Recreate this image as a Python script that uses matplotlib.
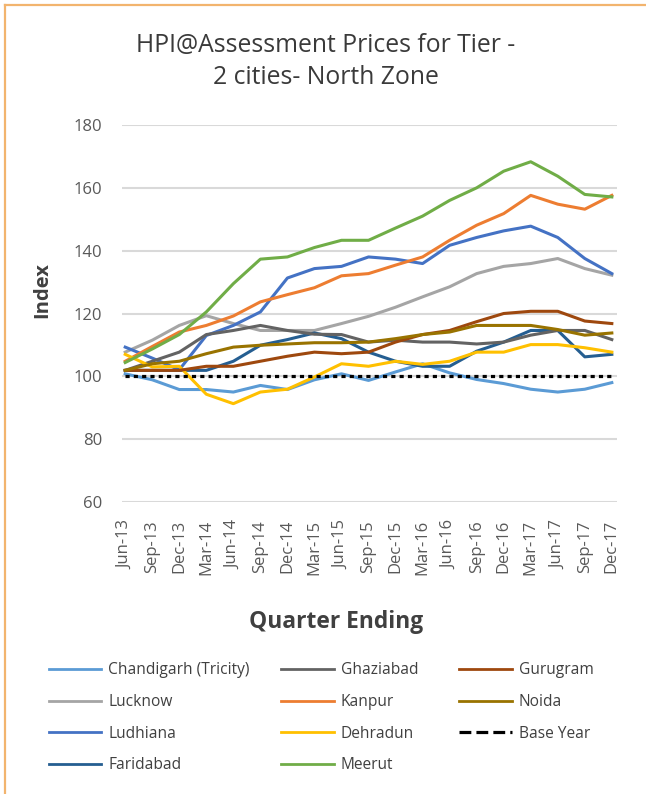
import matplotlib
matplotlib.use("Agg")
import matplotlib.pyplot as plt
from matplotlib.lines import Line2D

plt.rcParams['font.family'] = ['Open Sans', 'DejaVu Sans']

quarters = ["Jun-13", "Sep-13", "Dec-13", "Mar-14", "Jun-14", "Sep-14", "Dec-14",
            "Mar-15", "Jun-15", "Sep-15", "Dec-15", "Mar-16", "Jun-16", "Sep-16",
            "Dec-16", "Mar-17", "Jun-17", "Sep-17", "Dec-17"]

chandigarh = [100.8, 98.9, 95.8, 95.8, 95.0, 97.1, 95.8, 98.9, 100.8, 98.7,
              101.4, 104.0, 101.1, 99.0, 97.7, 95.9, 95.0, 95.9, 98.0]
ghaziabad = [101.9, 104.8, 107.7, 113.3, 114.6, 116.2, 114.6, 113.4, 113.3, 110.9,
             111.5, 110.9, 110.9, 110.3, 110.9, 113.1, 114.6, 114.6, 111.7]
gurugram = [101.9, 101.9, 101.9, 103.2, 103.2, 104.8, 106.4, 107.7, 107.2, 107.7,
            110.9, 113.3, 114.6, 117.4, 120.0, 120.7, 120.7, 117.6, 116.8]
lucknow = [107.7, 111.5, 116.2, 119.3, 116.8, 114.6, 114.6, 114.6, 116.8, 119.1,
           122.0, 125.3, 128.5, 132.7, 135.0, 135.9, 137.5, 134.3, 132.2]
kanpur = [104.8, 109.5, 114.1, 116.2, 119.2, 123.7, 126.0, 128.2, 132.0, 132.7,
          135.4, 138.0, 143.3, 148.1, 151.8, 157.6, 154.8, 153.2, 157.6]
noida = [101.9, 104.0, 104.8, 107.2, 109.3, 109.9, 110.3, 110.7, 110.7, 110.9,
         112.0, 113.3, 114.1, 116.2, 116.2, 116.2, 114.9, 113.1, 113.8]
ludhiana = [109.3, 105.8, 102.1, 113.0, 116.2, 120.5, 131.3, 134.3, 135.0, 138.0,
            137.3, 135.9, 141.7, 144.2, 146.3, 147.8, 144.2, 137.5, 132.7]
dehradun = [107.0, 103.0, 103.2, 94.3, 91.3, 95.0, 95.9, 99.8, 104.0, 103.2,
            104.8, 103.8, 104.8, 107.7, 107.7, 110.1, 110.1, 109.1, 107.7]
base_year = [100.0] * 19
faridabad = [101.9, 101.9, 101.9, 101.9, 104.8, 109.9, 111.7, 113.8, 112.0, 107.7,
             104.8, 103.2, 103.2, 108.0, 110.9, 114.6, 114.6, 106.2, 107.0]
meerut = [104.4, 108.7, 113.3, 120.5, 129.5, 137.3, 138.0, 141.0, 143.3, 143.3,
          147.2, 151.0, 156.0, 160.0, 165.3, 168.3, 163.7, 157.9, 157.1]

series = [
    ("Chandigarh (Tricity)", chandigarh, "#5B9BD5"),
    ("Lucknow", lucknow, "#A5A5A5"),
    ("Ludhiana", ludhiana, "#4472C4"),
    ("Faridabad", faridabad, "#255E91"),
    ("Ghaziabad", ghaziabad, "#636363"),
    ("Kanpur", kanpur, "#ED7D31"),
    ("Dehradun", dehradun, "#FFC000"),
    ("Meerut", meerut, "#70AD47"),
    ("Gurugram", gurugram, "#9E480E"),
    ("Noida", noida, "#997300"),
]

W, H = 646, 794
fig = plt.figure(figsize=(W / 100, H / 100), dpi=100)

def fx(px):
    return px / W

def fy(py):
    return 1 - py / H

ax = fig.add_axes([fx(121.7), fy(502), fx(616.7) - fx(121.7), fy(125) - fy(502)])
x = list(range(len(quarters)))

ax.set_ylim(60, 180)
ax.set_yticks([60, 80, 100, 120, 140, 160, 180])
ax.set_xlim(-0.13, 18.18)
ax.grid(axis='y', color='#D9D9D9', linewidth=1.5)
ax.set_axisbelow(True)
for s in ax.spines.values():
    s.set_visible(False)

handles = {}
for name, vals, col in series:
    ln, = ax.plot(x, vals, color=col, linewidth=2.2, solid_joinstyle='round', zorder=3)
    handles[name] = ln
bl, = ax.plot(x, base_year, color='black', linewidth=2.3, linestyle=(0, (1.3, 1.3)),
              dash_capstyle='butt', zorder=4)
handles["Base Year"] = bl

ax.set_xticks(x)
ax.set_xticklabels(quarters, rotation=90, fontsize=12, color='#595959')
ax.tick_params(axis='x', length=0, pad=13)
ax.tick_params(axis='y', length=0, pad=14, labelsize=12, labelcolor='#595959')

fig.text(fx(326), fy(61.5), "HPI@Assessment Prices for Tier -\n2 cities- North Zone",
         ha='center', va='center', fontsize=17.8, color='#3A3A3A', linespacing=1.38)
fig.text(fx(42), fy(290), "Index", rotation=90, ha='center', va='center',
         fontsize=14.5, fontweight='bold', color='#404040')
fig.text(fx(336), fy(622), "Quarter Ending", ha='center', va='center',
         fontsize=16.4, fontweight='bold', color='#404040')

columns = [
    (48.5, ["Chandigarh (Tricity)", "Lucknow", "Ludhiana", "Faridabad"]),
    (281, ["Ghaziabad", "Kanpur", "Dehradun", "Meerut"]),
    (459, ["Gurugram", "Noida", "Base Year"]),
]
for cx, names in columns:
    hs = []
    for n in names:
        h = handles[n]
        hs.append(Line2D([], [], color=h.get_color(), linestyle=h.get_linestyle(),
                         linewidth=2.0 if n != "Base Year" else 2.3,
                         dash_capstyle='butt'))
    leg = fig.legend(hs, names, ncol=1, loc='upper left',
                     bbox_to_anchor=(fx(cx), fy(662.5)), frameon=False, fontsize=11.2,
                     handlelength=3.4, handletextpad=0.45, borderpad=0,
                     borderaxespad=0, labelspacing=1.0, labelcolor='#404040')

# orange border on top and left
fig.add_artist(Line2D([fx(5), 1], [fy(5), fy(5)], color='#F2B46E', linewidth=1.6))
fig.add_artist(Line2D([fx(5), fx(5)], [fy(5), 0], color='#F2B46E', linewidth=1.6))

fig.savefig("out.png", dpi=100)
